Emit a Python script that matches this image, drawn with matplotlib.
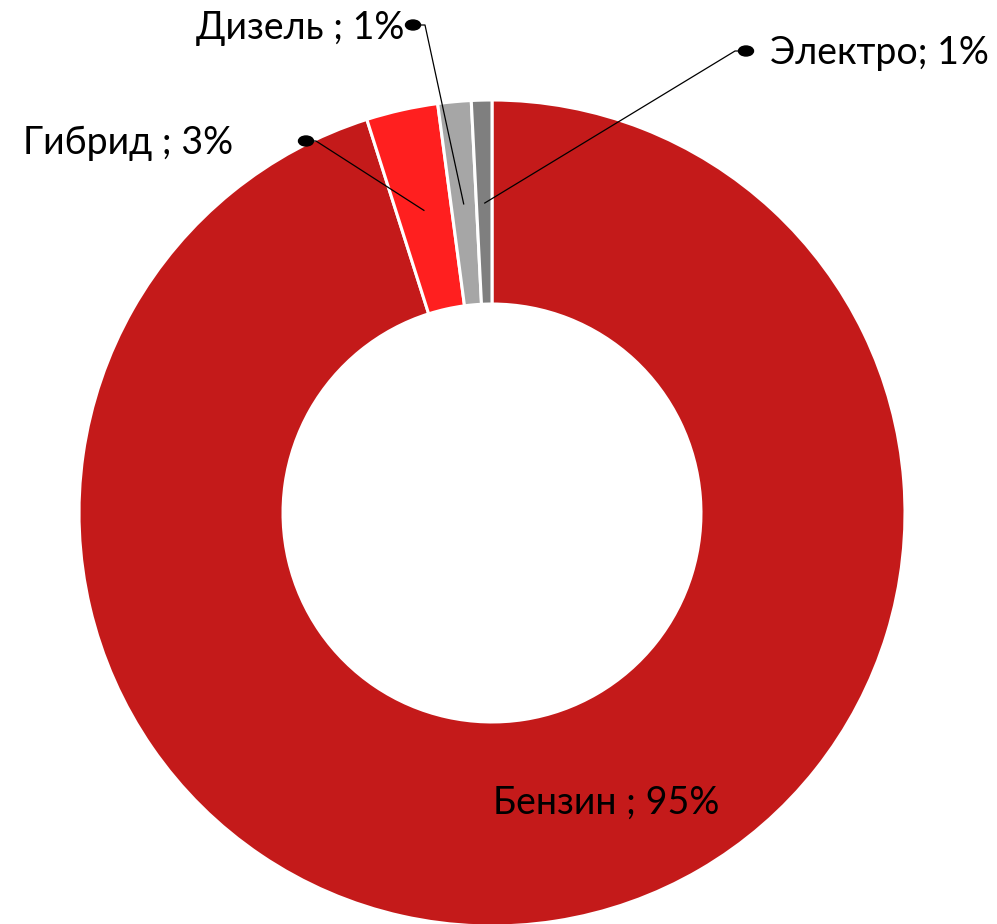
import numpy as np
import matplotlib
matplotlib.use("Agg")
import matplotlib.pyplot as plt
from matplotlib.patches import Ellipse

# data
categories = ["Бензин", "Гибрид", "Дизель", "Электро"]
shares = [95.1, 2.8, 1.3, 0.8]
labels = ["Бензин ; 95%", "Гибрид ; 3%", "Дизель ; 1%", "Электро; 1%"]
colors = ["#C41A1A", "#FF1F1F", "#A6A6A6", "#7F7F7F"]

W, H = 997, 924
CX, CY, R = 492, 513, 413  # donut centre / radius in pixels


def px(x, y):
    """pixel position -> data coordinates"""
    return (x - CX) / R, (CY - y) / R


plt.rcParams["font.family"] = ["Lato", "DejaVu Sans"]

fig = plt.figure(figsize=(W / 100, H / 100), dpi=100)
ax = fig.add_axes([0, 0, 1, 1])

wedges, _ = ax.pie(shares, colors=colors, startangle=90, counterclock=False,
                   radius=1.0,
                   wedgeprops=dict(width=0.494, edgecolor="white", linewidth=2.2))

# pie() resets the limits, so set them afterwards
ax.set_xlim(-CX / R, (W - CX) / R)
ax.set_ylim(-(H - CY) / R, CY / R)
ax.set_aspect("equal")
ax.axis("off")

# label text positions (pixels) and leader dots
text_pos = {
    "Бензин": dict(xy=(493, 803), ha="left"),
    "Гибрид": dict(xy=(233, 143), ha="right"),
    "Дизель": dict(xy=(404, 28), ha="right"),
    "Электро": dict(xy=(770, 53), ha="left"),
}
dot_pos = {
    "Гибрид": ((306, 141), (316, 141)),
    "Дизель": ((413, 25), (425, 25)),
    "Электро": ((746, 51), (735, 51)),
}

for w, cat, lab in zip(wedges, categories, labels):
    p = text_pos[cat]
    tx, ty = px(*p["xy"])
    ax.text(tx, ty, lab, ha=p["ha"], va="center", fontsize=27, color="black")
    if cat in dot_pos:
        mid = np.deg2rad((w.theta1 + w.theta2) / 2)
        ex, ey = 0.75 * np.cos(mid), 0.75 * np.sin(mid)
        (dx, dy), (kx, ky) = dot_pos[cat]
        d = px(dx, dy)
        k = px(kx, ky)
        ax.plot([d[0], k[0], ex], [d[1], k[1], ey], color="black", lw=0.9,
                solid_capstyle="butt")
        ax.add_patch(Ellipse(d, 15 / R, 10 / R, color="black", zorder=5))

fig.savefig("out.png", dpi=100)
